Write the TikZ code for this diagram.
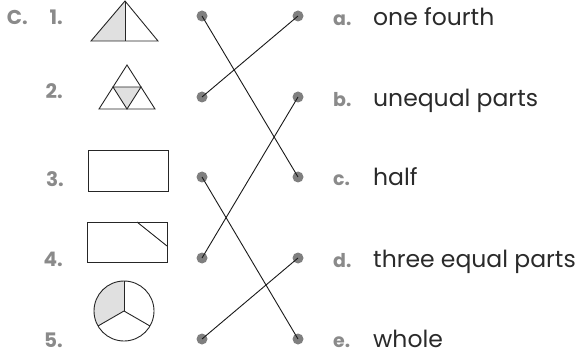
\documentclass[tikz,border=0pt]{standalone}
\usepackage{fontspec}
\setmainfont{Poppins}
\definecolor{lblgray}{HTML}{8A8A8A}
\definecolor{dotgray}{HTML}{7F7F7F}
\definecolor{txtgray}{HTML}{2A2A2A}
\definecolor{fillgray}{HTML}{E0E0E0}
\tikzset{
  dotnode/.style={circle,fill=dotgray,inner sep=0pt,minimum size=11pt},
  numlbl/.style={anchor=base east,text=lblgray,font=\fontsize{20}{22}\selectfont\bfseries,inner sep=0pt},
  letlbl/.style={anchor=base west,text=lblgray,font=\fontsize{19}{21}\selectfont\bfseries,inner sep=0pt},
  answer/.style={anchor=base west,text=txtgray,font=\fontsize{23.5}{26}\selectfont,inner sep=0pt},
  shapeline/.style={draw=black!85,line width=0.9pt},
  link/.style={draw=black!90,line width=0.9pt}
}
\begin{document}
\begin{tikzpicture}[x=1pt,y=-1pt]
\useasboundingbox (0,0) rectangle (588,355);
% numbers
\node[numlbl] (C) at (28,25) {C.};
\node[numlbl] (n1) at (63,25) {1.};
\node[numlbl] (n2) at (63,99) {2.};
\node[numlbl] (n3) at (64,187) {3.};
\node[numlbl] (n4) at (63,266) {4.};
\node[numlbl] (n5) at (63,347) {5.};
% shape 1
\fill[fillgray] (125,1) -- (91,41) -- (125,41) -- cycle;
\draw[shapeline] (125,1) -- (91,41) -- (158,41) -- cycle;
\draw[shapeline] (125,1) -- (125,41);
% shape 2
\fill[fillgray] (113,87) -- (141,87) -- (127,109) -- cycle;
\draw[shapeline] (127,65) -- (99,109) -- (155,109) -- cycle;
\draw[shapeline] (113,87) -- (141,87) -- (127,109) -- cycle;
% shape 3
\draw[shapeline] (88,150) rectangle (168,191);
% shape 4
\draw[shapeline] (87,222) rectangle (167,262);
\draw[shapeline] (137,222) -- (167,246);
% shape 5
\fill[fillgray] (124,311) -- (124,281) arc[start angle=270,end angle=150,radius=30] -- cycle;
\draw[shapeline] (124,311) circle[radius=30];
\draw[shapeline] (124,311) -- (124,281);
\draw[shapeline] (124,311) -- (98,326);
\draw[shapeline] (124,311) -- (150,326);
% dots
\node[dotnode] (L1) at (202,16) {};
\node[dotnode] (L2) at (202,97) {};
\node[dotnode] (L3) at (202,177) {};
\node[dotnode] (L4) at (202,258) {};
\node[dotnode] (L5) at (202,339) {};
\node[dotnode] (R1) at (298,16) {};
\node[dotnode] (R2) at (298,97) {};
\node[dotnode] (R3) at (298,177) {};
\node[dotnode] (R4) at (298,258) {};
\node[dotnode] (R5) at (298,339) {};
% links
\draw[link] (L1.center) -- (R3.center);
\draw[link] (L2.center) -- (R1.center);
\draw[link] (L3.center) -- (R5.center);
\draw[link] (L4.center) -- (R2.center);
\draw[link] (L5.center) -- (R4.center);
% right labels
\node[letlbl] (a) at (333,26) {a.};
\node[letlbl] (b) at (333,107) {b.};
\node[letlbl] (c) at (333,186) {c.};
\node[letlbl] (d) at (333,267) {d.};
\node[letlbl] (e) at (333,347) {e.};
\node[answer] (ta) at (373,26) {one fourth};
\node[answer] (tb) at (373,107) {unequal parts};
\node[answer] (tc) at (373,186) {half};
\node[answer] (td) at (373,267) {three equal parts};
\node[answer] (te) at (373,347) {whole};
\end{tikzpicture}
\end{document}
